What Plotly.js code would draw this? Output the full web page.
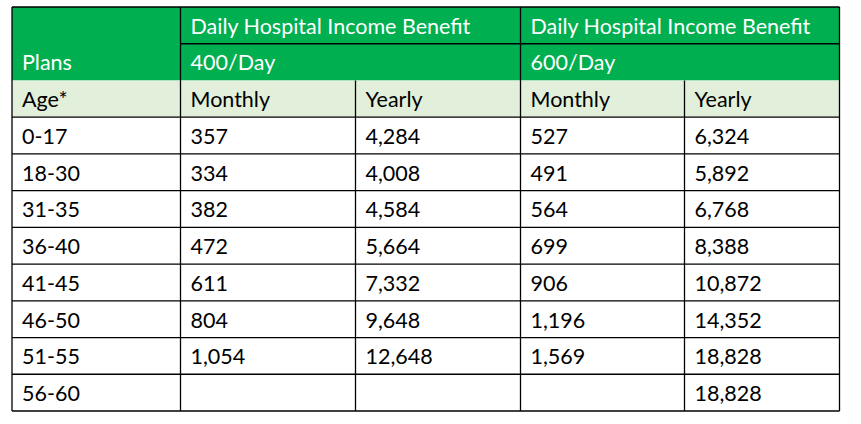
<!DOCTYPE html>
<html>
<head>
<meta charset="utf-8">
<script src="https://cdn.plot.ly/plotly-3.0.1.min.js"></script>
<style>html,body{margin:0;padding:0;background:#fff;}#chart{width:861px;height:424px;}</style>
</head>
<body>
<div id="chart"></div>
<script>
// ---- data ----
const groupTitles = ['Daily Hospital Income Benefit', 'Daily Hospital Income Benefit'];
const planLabels = ['400/Day', '600/Day'];
const subHeaders = ['Age*', 'Monthly', 'Yearly', 'Monthly', 'Yearly'];
const ages = ['0-17', '18-30', '31-35', '36-40', '41-45', '46-50', '51-55', '56-60'];
const monthly400 = [357, 334, 382, 472, 611, 804, 1054, null];
const yearly400 = [4284, 4008, 4584, 5664, 7332, 9648, 12648, null];
const monthly600 = [527, 491, 564, 699, 906, 1196, 1569, null];
const yearly600 = [6324, 5892, 6768, 8388, 10872, 14352, 18828, 18828];

// ---- layout geometry ----
const colEdges = [12, 180.5, 355.5, 520.5, 684.5, 839.5];
const tableTop = 7, tableBottom = 411;
const nRows = 3 + ages.length;
const rowH = (tableBottom - tableTop) / nRows;
const rowEdge = i => tableTop + i * rowH;
const textDrop = 3;
const rowMid = i => tableTop + (i + 0.5) * rowH + textDrop;
const padX = 10;
const GREEN = '#00B050', LIGHT = '#E2EFDA', LINE = '#000000';
const FONT = 'Lato, "Open Sans", sans-serif';
const FS = 21.5;

const fmt = v => (v === null || v === undefined) ? '' : v.toLocaleString('en-US');

// ---- text positions ----
const tx = [], ty = [], tt = [], tc = [];
function addText(col, row, text, color) {
  tx.push(colEdges[col] + padX); ty.push(rowMid(row)); tt.push(text); tc.push(color);
}
addText(0, 1, 'Plans', '#ffffff');
addText(1, 0, groupTitles[0], '#ffffff');
addText(3, 0, groupTitles[1], '#ffffff');
addText(1, 1, planLabels[0], '#ffffff');
addText(3, 1, planLabels[1], '#ffffff');
subHeaders.forEach((s, c) => addText(c, 2, s, '#000000'));
ages.forEach((a, i) => {
  const r = 3 + i;
  addText(0, r, a, '#000000');
  addText(1, r, fmt(monthly400[i]), '#000000');
  addText(2, r, fmt(yearly400[i]), '#000000');
  addText(3, r, fmt(monthly600[i]), '#000000');
  addText(4, r, fmt(yearly600[i]), '#000000');
});

// ---- shapes ----
const L = colEdges[0], R = colEdges[colEdges.length - 1];
const shapes = [];
shapes.push({type: 'rect', xref: 'x', yref: 'y', x0: L, x1: R, y0: rowEdge(0), y1: rowEdge(2), fillcolor: GREEN, line: {width: 0}, layer: 'below'});
shapes.push({type: 'rect', xref: 'x', yref: 'y', x0: L, x1: R, y0: rowEdge(2), y1: rowEdge(3), fillcolor: LIGHT, line: {width: 0}, layer: 'below'});
const ln = (x0, y0, x1, y1) => shapes.push({type: 'line', xref: 'x', yref: 'y', x0, y0, x1, y1, line: {color: LINE, width: 1.3}, layer: 'above'});
ln(L, tableTop, R, tableTop); ln(L, tableBottom, R, tableBottom);
ln(L, tableTop, L, tableBottom); ln(R, tableTop, R, tableBottom);
ln(colEdges[1], rowEdge(1), R, rowEdge(1));
for (let i = 3; i < nRows; i++) ln(L, rowEdge(i), R, rowEdge(i));
ln(colEdges[1], tableTop, colEdges[1], tableBottom);
ln(colEdges[3], tableTop, colEdges[3], tableBottom);
ln(colEdges[2], rowEdge(2), colEdges[2], tableBottom);
ln(colEdges[4], rowEdge(2), colEdges[4], tableBottom);

const trace = {
  type: 'scatter', mode: 'text', x: tx, y: ty, text: tt,
  textposition: 'middle right',
  textfont: {family: FONT, size: FS, color: tc},
  hoverinfo: 'skip', showlegend: false, cliponaxis: false
};

const layout = {
  width: 861, height: 424,
  margin: {l: 0, r: 0, t: 0, b: 0},
  paper_bgcolor: '#ffffff', plot_bgcolor: '#ffffff',
  xaxis: {range: [0, 861], visible: false, fixedrange: true},
  yaxis: {range: [424, 0], visible: false, fixedrange: true},
  shapes: shapes, showlegend: false
};

Plotly.newPlot('chart', [trace], layout, {staticPlot: true, displayModeBar: false});
</script>
</body>
</html>
